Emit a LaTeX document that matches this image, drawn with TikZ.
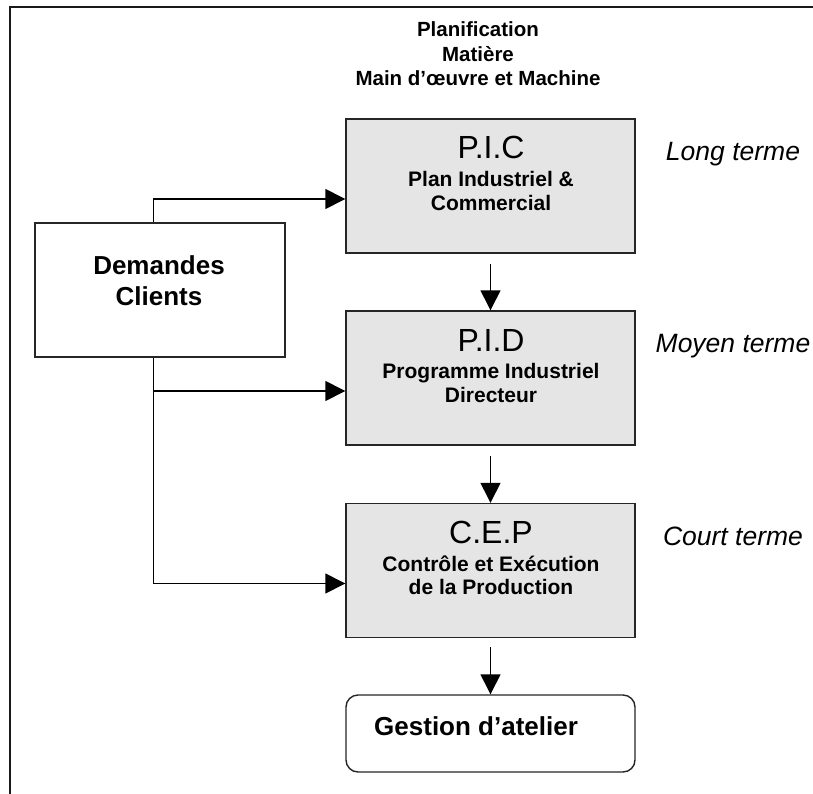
\documentclass[tikz,border=0pt]{standalone}
\usepackage{fontspec}
\setmainfont{Liberation Sans}
\usetikzlibrary{arrows.meta}
\begin{document}
\begin{tikzpicture}[x=1pt,y=-1pt,
  boxg/.style={draw=black!85, line width=1.4pt, fill=black!10, minimum width=289pt, minimum height=134pt, inner sep=0pt},
  boxw/.style={draw=black!85, line width=1.4pt, fill=white, inner sep=0pt},
  conn/.style={draw=black, line width=1.4pt, -{Triangle[length=20pt,width=20pt]}},
  acr/.style={anchor=base, font=\fontsize{32}{32}\selectfont, inner sep=0pt},
  sub/.style={anchor=base, font=\bfseries\fontsize{21}{21}\selectfont, inner sep=0pt},
  big/.style={anchor=base, font=\bfseries\fontsize{26}{26}\selectfont, inner sep=0pt},
  ttl/.style={anchor=base, font=\bfseries\fontsize{20.5}{20.5}\selectfont, inner sep=0pt},
  term/.style={anchor=base, font=\itshape\fontsize{26.5}{26.5}\selectfont, inner sep=0pt}
]
\useasboundingbox (0,0) rectangle (813,794);
\fill[white] (0,0) rectangle (813,794);
% frame
\draw[line width=2pt, black!90] (10,794) -- (10,7) -- (813,7);
% title
\node[ttl] (t1) at (478,37) {Planification};
\node[ttl] (t2) at (478,62) {Matière};
\node[ttl] (t3) at (478,86) {Main d’œuvre et Machine};
% boxes
\node[boxg] (pic) at (490.5,186) {};
\node[boxg] (pid) at (490.5,378) {};
\node[boxg] (cep) at (490.5,570.5) {};
\node[boxw, rounded corners=12pt, minimum width=289pt, minimum height=77pt] (gest) at (490.5,733.5) {};
\node[boxw, minimum width=250pt, minimum height=134pt] (dem) at (160,290) {};
% box texts
\node[acr] (picA) at (491,159) {P.I.C};
\node[sub] (picB) at (491,187) {Plan Industriel \&};
\node[sub] (picC) at (491,211) {Commercial};
\node[acr] (pidA) at (491,351) {P.I.D};
\node[sub] (pidB) at (491,378) {Programme Industriel};
\node[sub] (pidC) at (491,402) {Directeur};
\node[acr] (cepA) at (491,543) {C.E.P};
\node[sub] (cepB) at (491,571) {Contrôle et Exécution};
\node[sub] (cepC) at (491,594) {de la Production};
\node[big, anchor=base west] (gestT) at (374,735) {Gestion d’atelier};
\node[big] (demA) at (159,274) {Demandes};
\node[big] (demB) at (159,305) {Clients};
% terms
\node[term] (lt) at (733,161) {Long terme};
\node[term] (mt) at (733,352) {Moyen terme};
\node[term] (ct) at (733,545) {Court terme};
% connectors
\draw[conn] ([xshift=119pt]dem.north west) |- ([yshift=-13pt]pic.west);
\draw[conn] ([xshift=119pt]dem.south west) |- ([yshift=-13pt]pid.west);
\draw[conn] ([xshift=119pt]dem.south west) |- ([yshift=-13pt]cep.west);
\draw[conn] ([yshift=-10pt]pic.south) -- (pid.north);
\draw[conn] ([yshift=-10pt]pid.south) -- (cep.north);
\draw[conn] ([yshift=-9pt]cep.south) -- (gest.north);
\end{tikzpicture}
\end{document}
